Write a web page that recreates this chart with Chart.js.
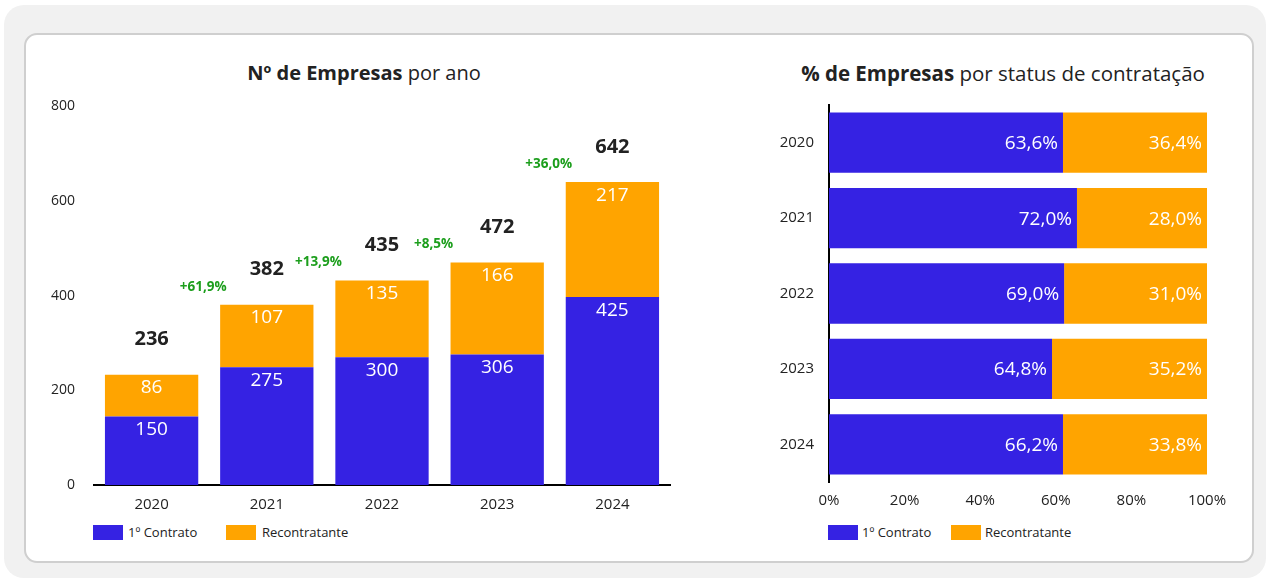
<!DOCTYPE html>
<html>
<head>
<meta charset="utf-8">
<script src="https://cdn.jsdelivr.net/npm/chart.js@4.4.1/dist/chart.umd.min.js"></script>
<style>
  html, body { margin: 0; padding: 0; background: #fff; }
  body { width: 1270px; height: 583px; position: relative; overflow: hidden; font-family: "Open Sans", sans-serif; color: #222; }
  .outer { position: absolute; left: 4px; top: 5px; width: 1262px; height: 573px; background: #f1f1f1; border-radius: 20px; }
  .card { position: absolute; left: 24px; top: 33px; width: 1226px; height: 526px; background: #fff; border: 2px solid #cfcfcf; border-radius: 13px; }
  .title { position: absolute; top: 60px; font-size: 20px; line-height: 26px; text-align: center; white-space: nowrap; }
  .title b { font-weight: 700; }
  .legend { position: absolute; top: 524px; font-size: 13px; line-height: 16px; white-space: nowrap; }
  .legend span { position: absolute; top: 0; }
  .legend i { position: absolute; top: 1px; width: 30px; height: 15px; }
  canvas { position: absolute; }
</style>
</head>
<body>
<div class="outer"></div>
<div class="card"></div>

<div class="title" style="left:64px; width:600px;"><b>Nº de Empresas</b> por ano</div>
<div class="title" style="left:703px; width:600px; font-size:20.5px;"><b>% de Empresas</b> por status de contratação</div>

<canvas id="chartCount" width="660" height="428" style="left:30px; top:87px;"></canvas>
<canvas id="chartShare" width="520" height="423" style="left:740px; top:89px;"></canvas>

<div class="legend" style="left:0;">
  <i style="left:93px; background:#3522e3;"></i><span style="left:128px;">1º Contrato</span>
  <i style="left:226px; background:#ffa400;"></i><span style="left:262px;">Recontratante</span>
</div>
<div class="legend" style="left:0;">
  <i style="left:828px; background:#3522e3;"></i><span style="left:862px;">1º Contrato</span>
  <i style="left:951px; background:#ffa400;"></i><span style="left:985px;">Recontratante</span>
</div>

<script>
const years = ["2020", "2021", "2022", "2023", "2024"];

// alturas das barras como aparecem no gráfico
const firstBars = [145, 249, 270, 276, 397];
const reBars = [88, 132, 162, 194, 243];

// rótulos escritos no gráfico
const firstLabels = ["150", "275", "300", "306", "425"];
const reLabels = ["86", "107", "135", "166", "217"];
const totalLabels = ["236", "382", "435", "472", "642"];
const growthLabels = [null, "+61,9%", "+13,9%", "+8,5%", "+36,0%"];

// % por status
const shareFirstBars = [61.9, 65.6, 62.2, 59.0, 61.9];
const shareReBars = [38.1, 34.4, 37.8, 41.0, 38.1];
const shareFirstLabels = ["63,6%", "72,0%", "69,0%", "64,8%", "66,2%"];
const shareReLabels = ["36,4%", "28,0%", "31,0%", "35,2%", "33,8%"];

const yTicks = [0, 200, 400, 600, 800];

const colors = { blue: "#3522e3", orange: "#ffa400", green: "#1c9e1c", text: "#222" };
const font = "'Open Sans', sans-serif";

const countLabels = {
  id: "countLabels",
  afterDatasetsDraw(chart) {
    const { ctx } = chart;
    const m0 = chart.getDatasetMeta(0).data;
    const m1 = chart.getDatasetMeta(1).data;
    ctx.save();
    ctx.textAlign = "center";
    ctx.textBaseline = "middle";
    ctx.fillStyle = "#fff";
    ctx.font = "19px " + font;
    m0.forEach((b, i) => ctx.fillText(firstLabels[i], b.x, b.y + 13));
    m1.forEach((b, i) => ctx.fillText(reLabels[i], b.x, b.y + 13));
    ctx.fillStyle = colors.text;
    ctx.font = "bold 20px " + font;
    m1.forEach((b, i) => ctx.fillText(totalLabels[i], b.x, b.y - 35));
    ctx.fillStyle = colors.green;
    ctx.font = "bold 13.5px " + font;
    m1.forEach((b, i) => {
      if (!growthLabels[i]) return;
      const edge = (m1[i - 1].x + b.x) / 2;
      ctx.fillText(growthLabels[i], edge - 6, b.y - 18);
    });
    ctx.restore();
  }
};

const shareLabels = {
  id: "shareLabels",
  afterDatasetsDraw(chart) {
    const { ctx } = chart;
    ctx.save();
    ctx.textAlign = "right";
    ctx.textBaseline = "middle";
    ctx.fillStyle = "#fff";
    ctx.font = "19px " + font;
    chart.getDatasetMeta(0).data.forEach((b, i) => ctx.fillText(shareFirstLabels[i], b.x - 5, b.y + 1));
    chart.getDatasetMeta(1).data.forEach((b, i) => ctx.fillText(shareReLabels[i], b.x - 5, b.y + 1));
    ctx.restore();
  }
};

new Chart(document.getElementById("chartCount"), {
  type: "bar",
  data: {
    labels: years,
    datasets: [
      { label: "1º Contrato", data: firstBars, backgroundColor: colors.blue, stack: "s" },
      { label: "Recontratante", data: reBars, backgroundColor: colors.orange, stack: "s" }
    ]
  },
  options: {
    responsive: false,
    animation: false,
    barPercentage: 0.81,
    categoryPercentage: 1,
    layout: { padding: { top: 15, right: 20, left: 0, bottom: 0 } },
    plugins: { legend: { display: false }, tooltip: { enabled: false } },
    scales: {
      x: {
        stacked: true,
        z: 1,
        grid: { display: false },
        border: { color: "#000", width: 2 },
        ticks: { color: colors.text, font: { family: font, size: 15 }, padding: 3 },
        afterFit: (s) => { s.height = 30; }
      },
      y: {
        stacked: true,
        min: 0,
        max: 800,
        grid: { display: false },
        border: { display: false },
        afterBuildTicks: (s) => { s.ticks = yTicks.map(v => ({ value: v })); },
        ticks: { color: colors.text, font: { family: font, size: 14 }, padding: 11 },
        afterFit: (s) => { s.width = 64; }
      }
    }
  },
  plugins: [countLabels]
});

new Chart(document.getElementById("chartShare"), {
  type: "bar",
  data: {
    labels: years,
    datasets: [
      { label: "1º Contrato", data: shareFirstBars, backgroundColor: colors.blue, stack: "s" },
      { label: "Recontratante", data: shareReBars, backgroundColor: colors.orange, stack: "s" }
    ]
  },
  options: {
    indexAxis: "y",
    responsive: false,
    animation: false,
    barPercentage: 0.8,
    categoryPercentage: 1,
    layout: { padding: { top: 15, right: 53, left: 0, bottom: 0 } },
    plugins: { legend: { display: false }, tooltip: { enabled: false } },
    scales: {
      x: {
        stacked: true,
        min: 0,
        max: 100,
        grid: { display: false },
        border: { display: false },
        ticks: { stepSize: 20, color: colors.text, font: { family: font, size: 15 }, padding: 2, callback: (v) => v + "%" },
        afterFit: (s) => { s.height = 30; }
      },
      y: {
        stacked: true,
        z: 1,
        grid: { display: false },
        border: { color: "#000", width: 2 },
        ticks: { color: colors.text, font: { family: font, size: 15 }, padding: 7 },
        afterFit: (s) => { s.width = 89; }
      }
    }
  },
  plugins: [shareLabels]
});
</script>
</body>
</html>
